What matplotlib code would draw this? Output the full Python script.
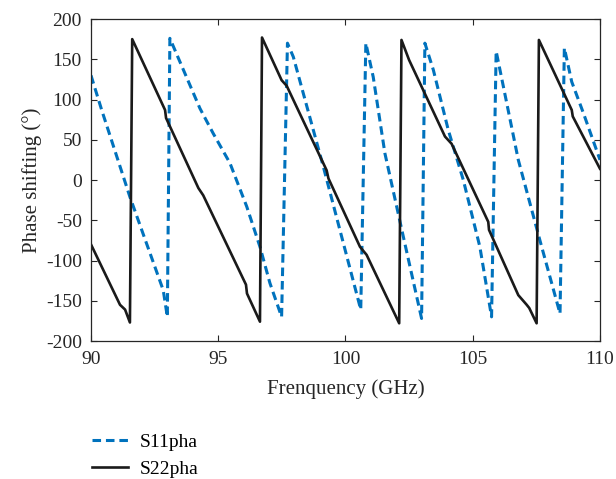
import matplotlib
matplotlib.use("Agg")
import matplotlib.pyplot as plt

# -- data --
s11_freq = [90.0, 90.42, 91.53, 92.84, 93.0, 93.1, 94.28, 94.8, 95.46, 96.12, 96.64, 97.03, 97.49,
            97.72, 97.95, 99.13, 100.6, 100.8, 101.09, 101.55, 102.27, 102.99,
            103.12, 103.45, 104.04, 104.63, 105.28, 105.74, 105.92, 106.14, 106.79, 107.64, 108.43,
            108.6, 108.89, 109.35, 110.0]
s11_pha = [130, 87, -21, -137, -170, 176, 89, 58, 21, -33, -83, -128, -170,
           170, 153, 16.5, -161, 170, 128, 33, -70, -172,
           170, 137, 62, 0, -83, -170, 160, 126, 25, -75, -166,
           164, 122, 83, 25]

s22_freq = [90.0, 91.14, 91.34, 91.53, 91.62, 92.91, 92.95, 94.22, 94.41, 96.09, 96.13, 96.64,
            96.72, 97.49, 97.69, 99.26, 99.33, 100.57, 100.83, 102.11,
            102.2, 102.5, 102.56, 103.91, 104.17, 105.61, 105.64, 106.79, 107.12, 107.22, 107.51,
            107.6, 108.89, 108.93, 110.0]
s22_pha = [-80, -155, -161, -177, 175, 87, 77, -10, -19, -130, -141, -176,
           177, 124, 117, 12, 2, -83, -93, -178,
           174, 149, 145, 54, 45, -52, -62, -143, -155, -159, -178,
           174, 87, 79, 14]

x_ticks = [90, 95, 100, 105, 110]
y_ticks = [-200, -150, -100, -50, 0, 50, 100, 150, 200]

plt.rcParams['font.family'] = ['Liberation Serif', 'DejaVu Serif']
plt.rcParams['axes.unicode_minus'] = False

fig = plt.figure(figsize=(6.16, 4.79), dpi=100)
ax = fig.add_axes([0.1477, 0.2881, 0.8263, 0.6722])

ax.plot(s11_freq, s11_pha, color='#0072BD', linewidth=2.2, linestyle=(0, (2.8, 1.6)), label='S11pha')
ax.plot(s22_freq, s22_pha, color='#1a1a1a', linewidth=1.9, label='S22pha')

ax.set_xlim(90, 110)
ax.set_ylim(-200, 200)
ax.set_xticks(x_ticks)
ax.set_yticks(y_ticks)
ax.tick_params(direction='in', length=4, width=0.8, top=True, right=True,
               labelsize=14, colors='#262626')
ax.tick_params(axis='x', pad=7)
ax.tick_params(axis='y', pad=6.5)
for sp in ax.spines.values():
    sp.set_color('#262626')
    sp.set_linewidth(0.9)

ax.set_xlabel('Frenquency (GHz)', fontsize=15, color='#262626', labelpad=8)
ax.set_ylabel('Phase shifting (°)', fontsize=15, color='#262626', labelpad=3)

fig.legend(loc='upper left', bbox_to_anchor=(0.149, 0.096), frameon=False,
           fontsize=14, handlelength=1.85, handletextpad=0.6, labelspacing=0.5,
           borderpad=0, borderaxespad=0)

fig.savefig('out.png', dpi=100)
